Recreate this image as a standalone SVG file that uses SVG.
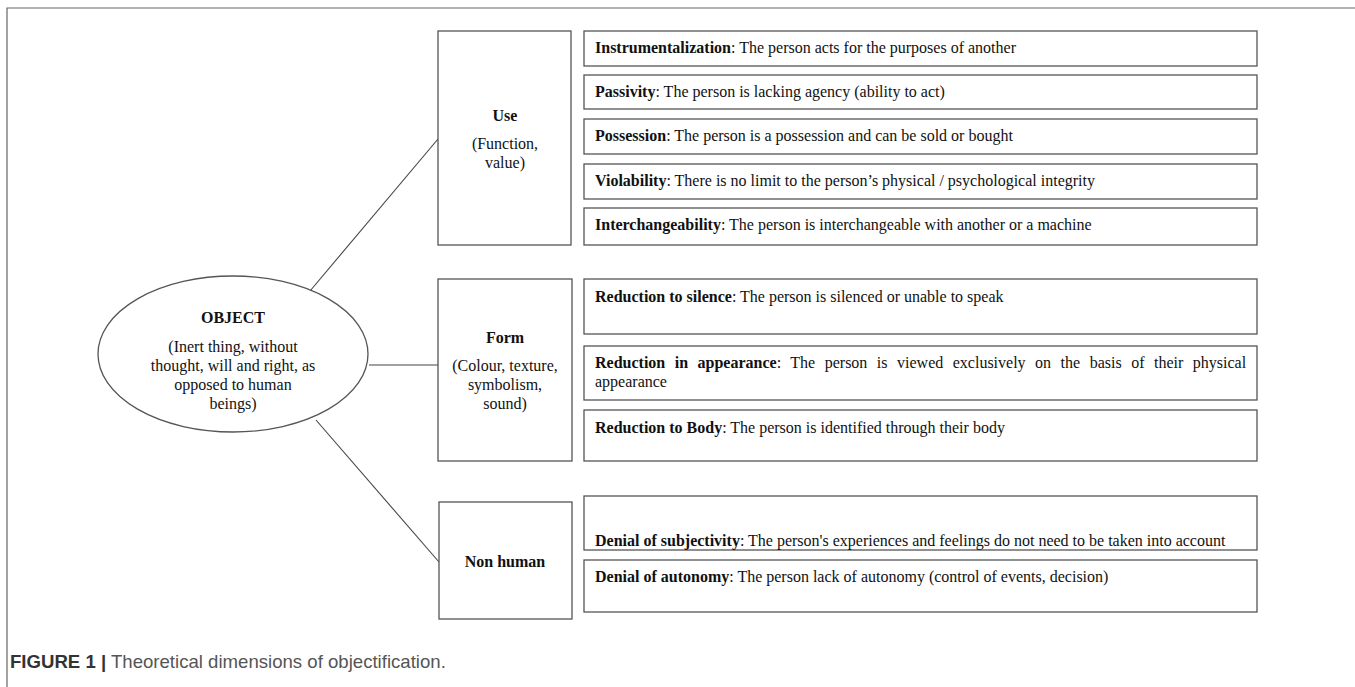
<svg xmlns="http://www.w3.org/2000/svg" width="1355" height="687" viewBox="0 0 1355 687">
<style>
.box{fill:#fff;stroke:#555;stroke-width:1.3}
.t{font-family:"Liberation Serif","Times New Roman",serif;font-size:16px;fill:#111}
.c{text-anchor:middle}
.b{font-weight:bold}
.conn{stroke:#444;stroke-width:1.1;fill:none}
.cap{font-family:"Liberation Sans",Arial,sans-serif;font-size:18.6px;fill:#555}
</style>
<rect width="1355" height="687" fill="#fff"/>
<g id="frame">
<path d="M7,687 V8 H1355" fill="none" stroke="#666" stroke-width="1.2"/>
</g>
<g id="connectors">
<line class="conn" x1="310" y1="291" x2="438" y2="139"/>
<line class="conn" x1="369" y1="365" x2="438" y2="365"/>
<line class="conn" x1="316" y1="420" x2="439" y2="562"/>
</g>
<g id="object">
<ellipse class="box" cx="233" cy="354" rx="135" ry="78"/>
<text class="t c b" x="233" y="323">OBJECT</text>
<text class="t c" x="233" y="352">(Inert thing, without</text>
<text class="t c" x="233" y="371">thought, will and right, as</text>
<text class="t c" x="233" y="390">opposed to human</text>
<text class="t c" x="233" y="409">beings)</text>
</g>
<g id="use">
<rect class="box" x="438" y="31" width="133" height="214"/>
<text class="t c b" x="505" y="121">Use</text>
<text class="t c" x="505" y="149">(Function,</text>
<text class="t c" x="505" y="168">value)</text>
</g>
<g id="use-1">
<rect class="box" x="584" y="31" width="673" height="35"/>
<text class="t" x="595" y="53"><tspan class="b">Instrumentalization</tspan>: The person acts for the purposes of another</text>
</g>
<g id="use-2">
<rect class="box" x="584" y="75" width="673" height="34"/>
<text class="t" x="595" y="97"><tspan class="b">Passivity</tspan>: The person is lacking agency (ability to act)</text>
</g>
<g id="use-3">
<rect class="box" x="584" y="119" width="673" height="35"/>
<text class="t" x="595" y="141"><tspan class="b">Possession</tspan>: The person is a possession and can be sold or bought</text>
</g>
<g id="use-4">
<rect class="box" x="584" y="164" width="673" height="35"/>
<text class="t" x="595" y="186"><tspan class="b">Violability</tspan>: There is no limit to the person’s physical / psychological integrity</text>
</g>
<g id="use-5">
<rect class="box" x="584" y="208" width="673" height="37"/>
<text class="t" x="595" y="230"><tspan class="b">Interchangeability</tspan>: The person is interchangeable with another or a machine</text>
</g>
<g id="form">
<rect class="box" x="438" y="279" width="134" height="182"/>
<text class="t c b" x="505" y="343">Form</text>
<text class="t c" x="505" y="371">(Colour, texture,</text>
<text class="t c" x="505" y="390">symbolism,</text>
<text class="t c" x="505" y="409">sound)</text>
</g>
<g id="form-1">
<rect class="box" x="584" y="279" width="673" height="55"/>
<text class="t" x="595" y="302"><tspan class="b">Reduction to silence</tspan>: The person is silenced or unable to speak</text>
</g>
<g id="form-2">
<rect class="box" x="584" y="346" width="673" height="54"/>
<text class="t" x="595" y="368" word-spacing="5.5"><tspan class="b">Reduction in appearance</tspan>: The person is viewed exclusively on the basis of their physical</text>
<text class="t" x="595" y="387">appearance</text>
</g>
<g id="form-3">
<rect class="box" x="584" y="410" width="673" height="51"/>
<text class="t" x="595" y="433"><tspan class="b">Reduction to Body</tspan>: The person is identified through their body</text>
</g>
<g id="nonhuman">
<rect class="box" x="439" y="502" width="133" height="117"/>
<text class="t c b" x="505" y="567">Non human</text>
</g>
<g id="nonhuman-1">
<rect class="box" x="584" y="496" width="673" height="54"/>
<text class="t" x="595" y="546"><tspan class="b">Denial of subjectivity</tspan>: The person's experiences and feelings do not need to be taken into account</text>
</g>
<g id="nonhuman-2">
<rect class="box" x="584" y="560" width="673" height="52"/>
<text class="t" x="595" y="582"><tspan class="b">Denial of autonomy</tspan>: The person lack of autonomy (control of events, decision)</text>
</g>
<g id="caption">
<text class="cap" x="10" y="668"><tspan font-weight="bold" fill="#333">FIGURE 1 |</tspan> Theoretical dimensions of objectification.</text>
</g>
</svg>
